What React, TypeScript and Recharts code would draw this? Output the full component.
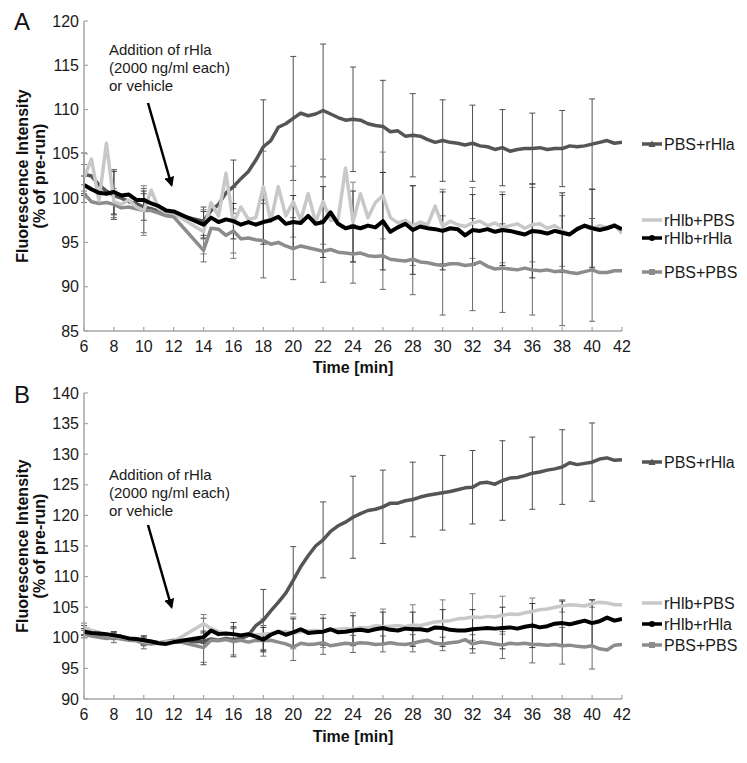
import { ErrorBar, Line, LineChart, XAxis, YAxis } from 'recharts';

const FONT = "'Liberation Sans', Arial, Helvetica, sans-serif";

// sampling times (min); the recording pauses between 12 and 14 min for the addition
const minutes = [
  6, 6.5, 7, 7.5, 8, 8.5, 9, 9.5, 10, 10.5, 11, 11.5, 12,
  14, 14.5, 15, 15.5, 16, 16.5, 17, 17.5, 18, 18.5,
  19, 19.5, 20, 20.5, 21, 21.5, 22, 22.5, 23, 23.5,
  24, 24.5, 25, 25.5, 26, 26.5, 27, 27.5, 28, 28.5,
  29, 29.5, 30, 30.5, 31, 31.5, 32, 32.5, 33, 33.5,
  34, 34.5, 35, 35.5, 36, 36.5, 37, 37.5, 38, 38.5,
  39, 39.5, 40, 40.5, 41, 41.5, 42,
];

// times that carry an error bar
const errorMinutes = [6, 8, 10, 14, 16, 18, 20, 22, 24, 26, 28, 30, 32, 34, 36, 38, 40];

const xTicks = [6, 8, 10, 12, 14, 16, 18, 20, 22, 24, 26, 28, 30, 32, 34, 36, 38, 40, 42];
const yTicksA = [85, 90, 95, 100, 105, 110, 115, 120];
const yTicksB = [90, 95, 100, 105, 110, 115, 120, 125, 130, 135, 140];

// ---- panel A ----
const aPbsRhla = [
  102.7, 102.5, 101.5, 100.8, 100.3, 100.0, 99.6, 99.4, 99.0, 98.8, 98.5, 98.3, 98.2,
  97.4, 98.6, 99.3, 100.6, 101.3, 102.2, 103.0, 104.3, 105.8, 106.5,
  108.0, 108.4, 109.0, 109.6, 109.3, 109.5, 109.9, 109.5, 109.1, 108.8,
  108.9, 108.8, 108.4, 108.2, 108.1, 107.5, 107.6, 107.0, 107.1, 107.0,
  106.6, 106.3, 106.5, 106.3, 106.2, 106.0, 106.2, 105.9, 105.8, 105.5,
  105.7, 105.3, 105.5, 105.6, 105.6, 105.7, 105.5, 105.6, 105.6, 105.9,
  105.8, 105.9, 106.1, 106.3, 106.5, 106.2, 106.3,
];
const aRhlbPbs = [
  102.3, 104.4, 99.7, 106.2, 99.6, 99.3, 99.8, 99.0, 98.6, 100.9, 98.8, 98.4, 98.3,
  96.2, 99.5, 98.0, 102.8, 97.2, 99.0, 97.6, 97.8, 101.3, 97.4,
  101.3, 98.0, 99.6, 97.5, 100.5, 97.3, 99.6, 97.5, 97.6, 103.4,
  97.3, 100.5, 97.8, 99.5, 100.3, 97.8, 97.2, 97.5, 96.9, 97.3,
  97.0, 99.1, 96.8, 97.4, 97.0, 96.8, 97.2, 97.4, 96.9, 97.2,
  96.7, 96.9, 97.1, 96.6, 97.0, 97.1, 96.6, 96.9, 96.3, 95.9,
  96.6, 96.8, 96.5, 96.9, 96.7, 97.0, 96.0,
];
const aRhlbRhla = [
  101.5, 101.0, 100.6, 100.5, 100.7, 100.3, 100.4, 99.8, 99.8, 99.4, 99.1, 98.6, 98.5,
  97.0, 97.8, 97.3, 97.6, 97.4, 97.0, 97.3, 97.0, 97.3, 97.5,
  97.9, 97.1, 97.3, 97.2, 98.0, 97.1, 97.3, 98.4, 97.1, 96.6,
  96.8, 96.6, 96.9, 96.7, 97.4, 96.2, 96.7, 97.1, 96.4, 96.8,
  96.6, 96.5, 96.3, 96.6, 96.5, 95.8, 96.4, 96.3, 96.5, 96.2,
  96.4, 96.3, 96.1, 95.9, 96.3, 96.2, 96.0, 96.3, 96.1, 95.9,
  96.5, 96.9, 96.6, 96.4, 96.6, 96.9, 96.5,
];
const aPbsPbs = [
  100.5, 99.6, 99.4, 99.5, 99.3, 98.9, 99.0, 98.8, 98.6, 98.6, 98.3, 98.0, 97.9,
  94.1, 96.6, 96.5, 95.8, 96.3, 95.4, 95.5, 95.3, 95.2, 94.8,
  95.0, 94.6, 94.3, 94.6, 94.4, 94.2, 94.0, 94.2, 93.9, 93.8,
  93.7, 93.8, 93.5, 93.4, 93.5, 93.1, 93.0, 92.9, 93.1, 92.8,
  92.7, 92.5, 92.4, 92.6, 92.6, 92.4, 92.5, 92.8, 92.3, 92.0,
  92.1, 92.0, 91.9, 92.1, 91.9, 91.8, 91.9, 91.7, 91.8, 91.6,
  91.5, 91.7, 91.9, 91.6, 91.6, 91.8, 91.8,
];
const aPbsRhlaErr = [2.4, 2.7, 1.5, 1.6, 3.0, 5.3, 7.0, 7.5, 5.9, 5.2, 4.7, 4.6, 4.3, 4.3, 4.0, 4.3, 5.1];
const aRhlbPbsErr = [1.5, 1.5, 2.8, 2.5, 4.0, 4.0, 4.0, 4.8, 4.5, 4.9, 4.5, 4.2, 4.0, 4.0, 4.2, 4.0, 4.5];
const aRhlbRhlaErr = [1.0, 2.5, 1.0, 1.5, 2.0, 2.5, 3.0, 4.0, 4.0, 5.5, 5.0, 4.4, 4.0, 4.0, 5.3, 4.5, 4.4];
const aPbsPbsErr = [1.0, 1.5, 2.5, 1.3, 2.5, 4.2, 3.5, 3.5, 3.3, 3.8, 4.0, 5.6, 5.2, 5.0, 5.1, 6.2, 5.8];

// ---- panel B ----
const bPbsRhla = [
  101.2, 100.9, 100.6, 100.4, 100.3, 100.0, 99.9, 99.7, 99.5, 99.4, 99.2, 99.2, 99.3,
  99.4, 99.8, 99.6, 99.9, 99.7, 99.9, 100.4, 102.0, 102.9, 104.4,
  105.8, 107.3, 109.4, 111.6, 113.4, 115.0, 116.0, 117.4, 118.3, 118.9,
  119.7, 120.3, 120.8, 121.0, 121.4, 122.0, 122.0, 122.4, 122.6, 123.0,
  123.3, 123.5, 123.7, 123.9, 124.2, 124.5, 124.6, 125.3, 125.4, 125.1,
  125.7, 126.1, 126.2, 126.5, 126.9, 127.1, 127.4, 127.6, 127.9, 128.6,
  128.3, 128.5, 128.7, 129.2, 129.4, 129.0, 129.1,
];
const bRhlbPbs = [
  101.8, 101.2, 100.9, 100.5, 100.3, 100.1, 99.9, 99.7, 99.4, 99.3, 99.2, 99.3, 99.4,
  102.3, 101.5, 101.0, 100.7, 100.5, 100.4, 100.6, 100.5, 100.6, 100.7,
  100.9, 101.0, 100.8, 101.0, 101.1, 101.2, 101.1, 101.3, 101.4, 101.5,
  101.4, 101.7, 101.6, 102.0, 101.8, 101.9, 102.0, 101.8, 102.1, 102.0,
  102.3, 102.6, 102.7, 102.8, 103.1, 103.2, 103.4, 103.3, 103.5, 103.4,
  103.7, 103.9, 103.8, 104.1, 104.3, 104.6, 104.7, 105.0, 105.2, 105.4,
  105.3, 105.2, 105.6, 105.8, 105.7, 105.4, 105.4,
];
const bRhlbRhla = [
  101.0, 100.8, 100.7, 100.6, 100.4, 100.2, 99.9, 99.8, 99.6, 99.4, 99.1, 99.0, 99.3,
  100.1, 101.2, 100.6, 100.7, 100.6, 100.4, 100.6, 100.2, 99.7, 100.5,
  101.0, 100.5, 100.9, 101.4, 100.8, 100.9, 101.0, 101.4, 100.9, 101.0,
  101.2, 101.3, 101.1, 101.4, 101.6, 101.3, 101.2, 101.5, 101.4, 101.4,
  101.2, 101.7, 101.6, 101.3, 101.2, 101.2, 101.4, 101.5, 101.6, 101.5,
  101.6, 101.7, 101.5, 101.8, 102.0, 101.7, 101.9, 102.3, 102.4, 102.2,
  102.5, 102.8, 102.4, 102.7, 103.3, 102.8, 103.1,
];
const bPbsPbs = [
  100.6, 100.3, 100.1, 99.9, 100.0, 99.8, 99.6, 99.5, 99.1, 99.0, 99.2, 99.4, 99.6,
  98.4, 99.6, 99.5, 99.7, 99.4, 99.6, 99.3, 99.6, 99.5, 99.6,
  99.3, 99.0, 98.5, 99.1, 98.9, 99.0, 99.2, 98.7, 98.9, 99.1,
  99.0, 99.2, 99.1, 98.9, 99.0, 99.2, 99.0, 98.9, 99.1, 99.4,
  99.6, 99.1, 99.0, 99.2, 99.3, 99.7, 99.0, 99.3, 99.2, 99.0,
  98.8, 99.1, 99.0, 99.1, 98.9, 98.9, 98.8, 98.9, 98.7, 98.8,
  98.6, 98.5, 98.7, 98.2, 98.0, 98.8, 98.9,
];
const bPbsRhlaErr = [0.8, 0.6, 0.8, 3.8, 2.8, 5.0, 5.5, 6.2, 6.7, 6.0, 6.1, 6.1, 6.0, 6.5, 5.9, 6.1, 6.4];
const bRhlbPbsErr = [0.6, 0.5, 0.5, 1.5, 1.0, 2.5, 2.6, 2.7, 2.7, 2.9, 3.3, 3.5, 3.8, 3.1, 2.2, 1.0, 0.6];
const bRhlbRhlaErr = [0.5, 0.6, 0.7, 1.0, 1.2, 2.0, 2.2, 2.2, 2.4, 2.6, 2.8, 3.0, 3.2, 3.4, 3.6, 3.6, 3.8];
const bPbsPbsErr = [0.6, 0.8, 0.9, 2.4, 2.2, 2.5, 2.2, 1.9, 1.4, 1.3, 1.4, 1.1, 1.5, 2.2, 3.0, 3.0, 3.8];

type Row = { t: number; v: number; e?: number };

function toRows(values: number[], errors: number[]): Row[] {
  return minutes.map((t, i) => {
    const k = errorMinutes.indexOf(t);
    return { t, v: values[i], e: k >= 0 ? errors[k] : undefined };
  });
}

type SeriesDef = {
  name: string;
  rows: Row[];
  color: string;
  width: number;
  errColor: string;
};

const DARK = '#555555';
const LIGHT = '#c8c8c8';
const BLACK = '#000000';
const MID = '#8c8c8c';
const AXIS = '#a6a6a6';

// drawing order: dark first, black last (on top)
const seriesA: SeriesDef[] = [
  { name: 'PBS+rHla', rows: toRows(aPbsRhla, aPbsRhlaErr), color: DARK, width: 3.5, errColor: '#505050' },
  { name: 'PBS+PBS', rows: toRows(aPbsPbs, aPbsPbsErr), color: MID, width: 3.5, errColor: '#6a6a6a' },
  { name: 'rHlb+PBS', rows: toRows(aRhlbPbs, aRhlbPbsErr), color: LIGHT, width: 3.5, errColor: '#808080' },
  { name: 'rHlb+rHla', rows: toRows(aRhlbRhla, aRhlbRhlaErr), color: BLACK, width: 4, errColor: '#3a3a3a' },
];
const seriesB: SeriesDef[] = [
  { name: 'PBS+rHla', rows: toRows(bPbsRhla, bPbsRhlaErr), color: DARK, width: 3.5, errColor: '#505050' },
  { name: 'PBS+PBS', rows: toRows(bPbsPbs, bPbsPbsErr), color: MID, width: 3.5, errColor: '#6a6a6a' },
  { name: 'rHlb+PBS', rows: toRows(bRhlbPbs, bRhlbPbsErr), color: LIGHT, width: 3.5, errColor: '#808080' },
  { name: 'rHlb+rHla', rows: toRows(bRhlbRhla, bRhlbRhlaErr), color: BLACK, width: 4, errColor: '#3a3a3a' },
];

function YTick(props: any) {
  const { x, y, payload } = props;
  return (
    <g>
      <text
        x={x}
        y={y}
        textAnchor="end"
        dominantBaseline="central"
        fontSize={16}
        fontFamily={FONT}
        fill="#1a1a1a"
      >
        {payload.value}
      </text>
      <line x1={x + 5} x2={x + 9} y1={y} y2={y} stroke={AXIS} strokeWidth={1.2} />
    </g>
  );
}

function XTick(props: any) {
  const { x, y, payload } = props;
  return (
    <g>
      <text
        x={x}
        y={y}
        dy="0.71em"
        textAnchor="middle"
        fontSize={16}
        fontFamily={FONT}
        fill="#1a1a1a"
      >
        {payload.value}
      </text>
      <line x1={x} x2={x} y1={y - 10} y2={y - 14} stroke={AXIS} strokeWidth={1.2} />
    </g>
  );
}

function Panel({
  top,
  height,
  marginTop,
  marginBottom,
  yDomain,
  yTicks,
  series,
}: {
  top: number;
  height: number;
  marginTop: number;
  marginBottom: number;
  yDomain: [number, number];
  yTicks: number[];
  series: SeriesDef[];
}) {
  return (
    <div style={{ position: 'absolute', left: 0, top, width: 747, height }}>
      <LineChart
        width={747}
        height={height}
        margin={{ top: marginTop, right: 125, bottom: marginBottom, left: 24 }}
      >
        <XAxis
          type="number"
          dataKey="t"
          domain={[6, 42]}
          ticks={xTicks}
          interval={0}
          allowDataOverflow
          height={30}
          tickSize={0}
          tickMargin={10}
          tickLine={false}
          axisLine={{ stroke: AXIS, strokeWidth: 1.5 }}
          tick={<XTick />}
        />
        <YAxis
          type="number"
          domain={yDomain}
          ticks={yTicks}
          interval={0}
          allowDataOverflow
          width={60}
          tickSize={0}
          tickMargin={5}
          tickLine={false}
          axisLine={{ stroke: AXIS, strokeWidth: 1.5 }}
          tick={<YTick />}
        />
        {/* error bars first, so the curves sit on top of them */}
        {series.map((s) => (
          <Line
            key={`${s.name}-err`}
            data={s.rows}
            dataKey="v"
            type="linear"
            stroke="none"
            dot={false}
            activeDot={false}
            legendType="none"
            isAnimationActive={false}
          >
            <ErrorBar
              dataKey="e"
              width={3}
              stroke={s.errColor}
              strokeWidth={1}
              isAnimationActive={false}
            />
          </Line>
        ))}
        {series.map((s) => (
          <Line
            key={s.name}
            data={s.rows}
            dataKey="v"
            name={s.name}
            type="linear"
            stroke={s.color}
            strokeWidth={s.width}
            strokeLinejoin="round"
            dot={false}
            activeDot={false}
            isAnimationActive={false}
          />
        ))}
      </LineChart>
    </div>
  );
}

function LegendItem({
  y,
  label,
  color,
  marker,
}: {
  y: number;
  label: string;
  color: string;
  marker: 'triangle' | 'circle' | 'square' | 'none';
}) {
  const cx = 652;
  return (
    <g>
      <line x1={642} x2={662} y1={y} y2={y} stroke={color} strokeWidth={3.5} />
      {marker === 'triangle' && (
        <polygon points={`${cx - 3.5},${y + 3} ${cx + 3.5},${y + 3} ${cx},${y - 3.5}`} fill={color} />
      )}
      {marker === 'circle' && <circle cx={cx} cy={y} r={3} fill={color} />}
      {marker === 'square' && <rect x={cx - 3} y={y - 3} width={6} height={6} fill={color} />}
      <text x={664} y={y} dominantBaseline="central" fontSize={16} fontFamily={FONT} fill="#1a1a1a">
        {label}
      </text>
    </g>
  );
}

function Annotation({ baseY, arrowFrom, arrowTo }: { baseY: number; arrowFrom: [number, number]; arrowTo: [number, number] }) {
  return (
    <g>
      <text x={109} y={baseY} fontSize={15} fontFamily={FONT} fill="#1a1a1a">
        Addition of rHla
      </text>
      <text x={109} y={baseY + 18} fontSize={15} fontFamily={FONT} fill="#1a1a1a">
        (2000 ng/ml each)
      </text>
      <text x={109} y={baseY + 36} fontSize={15} fontFamily={FONT} fill="#1a1a1a">
        or vehicle
      </text>
      <line
        x1={arrowFrom[0]}
        y1={arrowFrom[1]}
        x2={arrowTo[0]}
        y2={arrowTo[1]}
        stroke="#000"
        strokeWidth={2.5}
        markerEnd="url(#arrowHead)"
      />
    </g>
  );
}

function YTitle({ cy }: { cy: number }) {
  return (
    <g>
      <text
        x={22}
        y={cy}
        transform={`rotate(-90, 22, ${cy})`}
        textAnchor="middle"
        dominantBaseline="central"
        fontSize={16}
        fontWeight="bold"
        fontFamily={FONT}
        fill="#111"
      >
        Fluorescence Intensity
      </text>
      <text
        x={39}
        y={cy}
        transform={`rotate(-90, 39, ${cy})`}
        textAnchor="middle"
        dominantBaseline="central"
        fontSize={16}
        fontWeight="bold"
        fontFamily={FONT}
        fill="#111"
      >
        (% of pre-run)
      </text>
    </g>
  );
}

export default function App() {
  return (
    <div
      style={{
        position: 'absolute',
        left: 0,
        top: 0,
        width: 747,
        height: 763,
        background: '#fff',
        overflow: 'hidden',
      }}
    >
      <Panel
        top={0}
        height={370}
        marginTop={21}
        marginBottom={9}
        yDomain={[85, 120]}
        yTicks={yTicksA}
        series={seriesA}
      />
      <Panel
        top={370}
        height={393}
        marginTop={23}
        marginBottom={34}
        yDomain={[90, 140]}
        yTicks={yTicksB}
        series={seriesB}
      />
      <svg
        width={747}
        height={763}
        style={{ position: 'absolute', left: 0, top: 0, pointerEvents: 'none' }}
      >
        <defs>
          <marker
            id="arrowHead"
            viewBox="0 0 10 10"
            refX="8"
            refY="5"
            markerWidth="4"
            markerHeight="4"
            orient="auto"
          >
            <path d="M0,0 L10,5 L0,10 z" fill="#000" />
          </marker>
        </defs>

        <text x={14} y={30} fontSize={24} fontFamily={FONT} fill="#111">A</text>
        <text x={14} y={403} fontSize={24} fontFamily={FONT} fill="#111">B</text>

        <YTitle cy={176} />
        <YTitle cy={546} />

        <text x={353} y={367} textAnchor="middle" dominantBaseline="central" fontSize={16} fontWeight="bold" fontFamily={FONT} fill="#111">
          Time [min]
        </text>
        <text x={353} y={736} textAnchor="middle" dominantBaseline="central" fontSize={16} fontWeight="bold" fontFamily={FONT} fill="#111">
          Time [min]
        </text>

        <Annotation baseY={55} arrowFrom={[148, 103]} arrowTo={[171.5, 185]} />
        <Annotation baseY={480} arrowFrom={[148, 525]} arrowTo={[171.5, 607]} />

        <LegendItem y={144} label="PBS+rHla" color={DARK} marker="triangle" />
        <LegendItem y={220} label="rHlb+PBS" color={LIGHT} marker="none" />
        <LegendItem y={238} label="rHlb+rHla" color={BLACK} marker="circle" />
        <LegendItem y={272} label="PBS+PBS" color={MID} marker="square" />

        <LegendItem y={462} label="PBS+rHla" color={DARK} marker="triangle" />
        <LegendItem y={603} label="rHlb+PBS" color={LIGHT} marker="none" />
        <LegendItem y={624} label="rHlb+rHla" color={BLACK} marker="circle" />
        <LegendItem y={645} label="PBS+PBS" color={MID} marker="square" />
      </svg>
    </div>
  );
}
